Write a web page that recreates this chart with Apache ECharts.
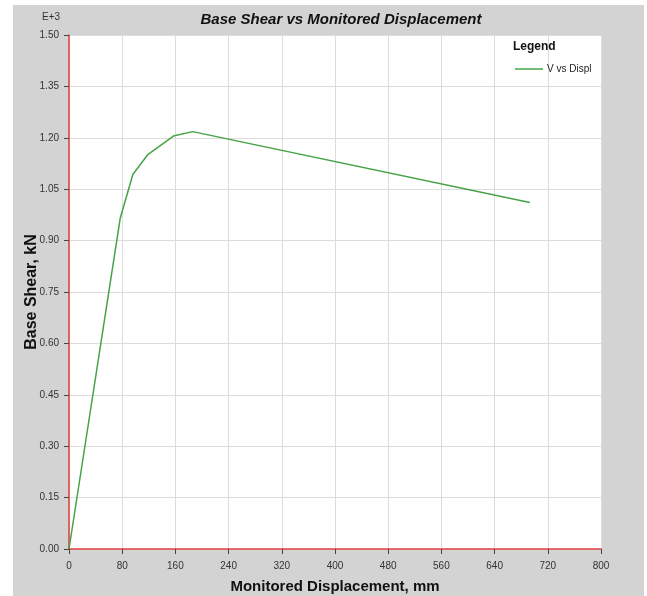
<!DOCTYPE html>
<html>
<head>
<meta charset="utf-8">
<script src="https://cdn.jsdelivr.net/npm/echarts@6/dist/echarts.min.js"></script>
<style>
html,body{margin:0;padding:0;background:#fff;}
#c{width:647px;height:596px;}
</style>
</head>
<body>
<div id="c"></div>
<script>
// Data (displacement in mm, base shear in kN)
const displacement = [0, 77, 96, 118, 157, 186, 693];
const baseShear = [0, 965, 1093, 1150, 1205, 1218, 1011];
const seriesName = 'V vs Displ';
const xTicks = [0, 80, 160, 240, 320, 400, 480, 560, 640, 720, 800];
const yTicks = [0, 150, 300, 450, 600, 750, 900, 1050, 1200, 1350, 1500];

const FONT = '"Liberation Sans", Arial, sans-serif';
const chart = echarts.init(document.getElementById('c'), null, {renderer: 'canvas'});
const pts = displacement.map((d, i) => [d, baseShear[i]]);

chart.setOption({
  backgroundColor: '#ffffff',
  animation: false,
  graphic: [
    {type: 'rect', z: -10, shape: {x: 13, y: 5, width: 631, height: 591}, style: {fill: '#d3d3d3'}, silent: true},
    {type: 'text', left: 42, top: 12, style: {text: 'E+3', font: '10px ' + FONT, fill: '#333'}},
    {type: 'text', left: 513, top: 41, z: 100, style: {text: 'Legend', font: 'bold 12px ' + FONT, fill: '#111'}}
  ],
  title: {
    text: 'Base Shear vs Monitored Displacement',
    left: 336, top: 7, textAlign: 'center',
    textStyle: {fontFamily: FONT, fontSize: 15, fontWeight: 'bold', fontStyle: 'italic', color: '#111'}
  },
  legend: {
    data: [seriesName],
    left: 515, top: 64,
    icon: 'rect', itemWidth: 28, itemHeight: 1.5, itemGap: 4,
    textStyle: {fontFamily: FONT, fontSize: 10, color: '#222', padding: [0, 0, 0, -1]},
    padding: 0
  },
  grid: {
    left: 69, top: 35, width: 532, height: 514,
    show: true, backgroundColor: '#ffffff', borderWidth: 0,
    containLabel: false, outerBoundsMode: 'none'
  },
  xAxis: {
    type: 'value', min: xTicks[0], max: xTicks[xTicks.length - 1], interval: 80,
    name: 'Monitored Displacement, mm', nameLocation: 'middle', nameGap: 30,
    nameMoveOverlap: false,
    nameTextStyle: {fontFamily: FONT, fontSize: 15, fontWeight: 'bold', color: '#111'},
    axisLine: {show: true, onZero: false, lineStyle: {color: '#e03c3c', width: 1.5}},
    axisTick: {show: true, length: 5, lineStyle: {color: '#444'}},
    axisLabel: {fontFamily: FONT, fontSize: 10, color: '#333', margin: 12},
    splitLine: {show: true, lineStyle: {color: '#dcdcdc', width: 1}}
  },
  yAxis: {
    type: 'value', min: yTicks[0], max: yTicks[yTicks.length - 1], interval: 150,
    name: 'Base Shear, kN', nameLocation: 'middle', nameGap: 29,
    nameMoveOverlap: false,
    nameTextStyle: {fontFamily: FONT, fontSize: 16, fontWeight: 'bold', color: '#111'},
    axisLine: {show: true, onZero: false, lineStyle: {color: '#e03c3c', width: 1.5}},
    axisTick: {show: true, length: 5, lineStyle: {color: '#444'}},
    axisLabel: {fontFamily: FONT, fontSize: 10, color: '#333', margin: 10,
      formatter: v => (v / 1000).toFixed(2)},
    splitLine: {show: true, lineStyle: {color: '#dcdcdc', width: 1}}
  },
  series: [{
    name: seriesName, type: 'line', data: pts,
    showSymbol: false, symbol: 'none',
    lineStyle: {color: '#45a345', width: 1.5},
    itemStyle: {color: '#45a345'}
  }]
});
</script>
</body>
</html>
